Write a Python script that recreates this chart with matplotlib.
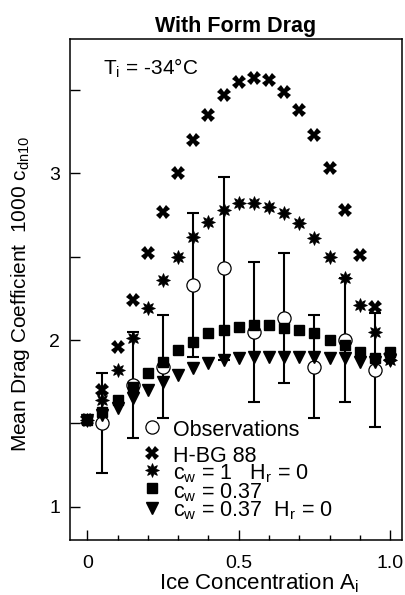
import matplotlib
matplotlib.use("Agg")
import matplotlib.pyplot as plt
from matplotlib.ticker import MultipleLocator, FixedLocator, NullFormatter

plt.rcParams['font.family'] = ['Liberation Sans', 'DejaVu Sans']
plt.rcParams['mathtext.fontset'] = 'custom'
plt.rcParams['mathtext.rm'] = 'Liberation Sans'
plt.rcParams['mathtext.it'] = 'Liberation Sans'

# ---- data ----
A_model = [0.0, 0.05, 0.1, 0.15, 0.2, 0.25, 0.3, 0.35, 0.4, 0.45, 0.5,
           0.55, 0.6, 0.65, 0.7, 0.75, 0.8, 0.85, 0.9, 0.95, 1.0]
hbg88 = [1.52, 1.70, 1.96, 2.24, 2.52, 2.77, 3.00, 3.20, 3.35, 3.47, 3.55,
         3.57, 3.56, 3.49, 3.38, 3.23, 3.03, 2.78, 2.51, 2.20, 1.90]
cw1_hr0 = [1.52, 1.64, 1.82, 2.01, 2.19, 2.36, 2.50, 2.62, 2.71, 2.78, 2.82,
           2.82, 2.80, 2.76, 2.70, 2.61, 2.50, 2.37, 2.21, 2.05, 1.88]
cw037 = [1.52, 1.57, 1.64, 1.72, 1.80, 1.87, 1.94, 1.99, 2.04, 2.06, 2.08,
         2.09, 2.09, 2.07, 2.06, 2.04, 2.00, 1.97, 1.93, 1.89, 1.93]
cw037_hr0 = [1.52, 1.55, 1.59, 1.65, 1.70, 1.75, 1.79, 1.83, 1.86, 1.88, 1.89,
             1.90, 1.90, 1.90, 1.90, 1.90, 1.89, 1.89, 1.87, 1.87, 1.88]

A_obs = [0.05, 0.15, 0.25, 0.35, 0.45, 0.55, 0.65, 0.75, 0.85, 0.95]
obs_mean = [1.50, 1.73, 1.84, 2.33, 2.43, 2.05, 2.13, 1.84, 2.00, 1.82]
obs_err = [0.30, 0.32, 0.31, 0.43, 0.55, 0.42, 0.39, 0.31, 0.37, 0.34]

title = "With Form Drag"
xlabel = r"Ice Concentration A$_{\rm i}$"
ylabel = r"Mean Drag Coefficient  1000 c$_{\rm dn10}$"
temp_label = r"T$_{\rm i}$ = -34°C"
legend_labels = ["Observations", "H-BG 88",
                 r"c$_{\rm w}$ = 1   H$_{\rm r}$ = 0",
                 r"c$_{\rm w}$ = 0.37",
                 r"c$_{\rm w}$ = 0.37  H$_{\rm r}$ = 0"]

# ---- figure ----
fig = plt.figure(figsize=(4.05, 5.95), dpi=100)
ax = fig.add_axes([70 / 405, 1 - 540 / 595, 332 / 405, 501.5 / 595])

ax.errorbar(A_obs, obs_mean, yerr=obs_err, fmt='none', ecolor='black',
            elinewidth=1.5, capsize=4.3, capthick=1.5, zorder=2)
ax.plot(A_obs, obs_mean, 'o', ms=9.5, mfc='white', mec='black', mew=0.9,
        zorder=3, linestyle='none')

star = (8, 1, 0)
ax.plot(A_model, hbg88, 'X', ms=9.5, color='black', mew=0, zorder=4, linestyle='none')
ax.plot(A_model, cw1_hr0, marker=star, ms=10, color='black', mew=0.6, zorder=4, linestyle='none')
ax.plot(A_model, cw037, 's', ms=6.5, color='black', zorder=4, linestyle='none')
ax.plot(A_model, cw037_hr0, 'v', ms=8, color='black', zorder=4, linestyle='none')

ax.set_xlim(-0.057, 1.039)
ax.set_ylim(0.80, 3.81)

ax.xaxis.set_major_locator(FixedLocator([0, 0.5, 1.0]))
ax.set_xticklabels(['0', '0.5', '1.0'])
ax.xaxis.set_minor_locator(MultipleLocator(0.1))
ax.yaxis.set_major_locator(FixedLocator([1, 2, 3]))
ax.yaxis.set_minor_locator(FixedLocator([1.5, 2.5, 3.5]))
ax.yaxis.set_minor_formatter(NullFormatter())

ax.tick_params(which='both', direction='in', top=False, right=False,
               labelsize=14, width=1.0)
ax.tick_params(axis='x', which='major', length=7, pad=10.5)
ax.tick_params(axis='x', which='minor', length=3.5)
ax.tick_params(axis='y', which='both', length=7, pad=7)
for s in ax.spines.values():
    s.set_linewidth(1.1)

ax.set_title(title, fontsize=15.5, fontweight='bold', pad=5)
ax.set_xlabel(xlabel, fontsize=16)
ax.xaxis.set_label_coords(0.57, -0.062)
ax.set_ylabel(ylabel, fontsize=15)
ax.yaxis.set_label_coords(-0.115, 0.49)

ax.text(0.10, 0.927, temp_label, transform=ax.transAxes, fontsize=15,
        va='baseline', ha='left')

# manual legend
leg_marker_x = 0.246
leg_text_x = 0.31
leg_y_text = [0.2074, 0.156, 0.1216, 0.0831, 0.0465]
leg_y_mark = [0.226, 0.173, 0.139, 0.103, 0.064]
leg_styles = [dict(marker='o', ms=9.5, mfc='white', mec='black', mew=0.9),
              dict(marker='X', ms=9.5, color='black', mew=0),
              dict(marker=star, ms=10, color='black', mew=0.6),
              dict(marker='s', ms=6.5, color='black'),
              dict(marker='v', ms=8, color='black')]
for lab, yt, ym, st in zip(legend_labels, leg_y_text, leg_y_mark, leg_styles):
    ax.plot([leg_marker_x], [ym], transform=ax.transAxes, linestyle='none',
            clip_on=False, zorder=5, **st)
    ax.text(leg_text_x, yt, lab, transform=ax.transAxes, fontsize=15.5,
            va='baseline', ha='left')

fig.savefig("out.png", dpi=100)
